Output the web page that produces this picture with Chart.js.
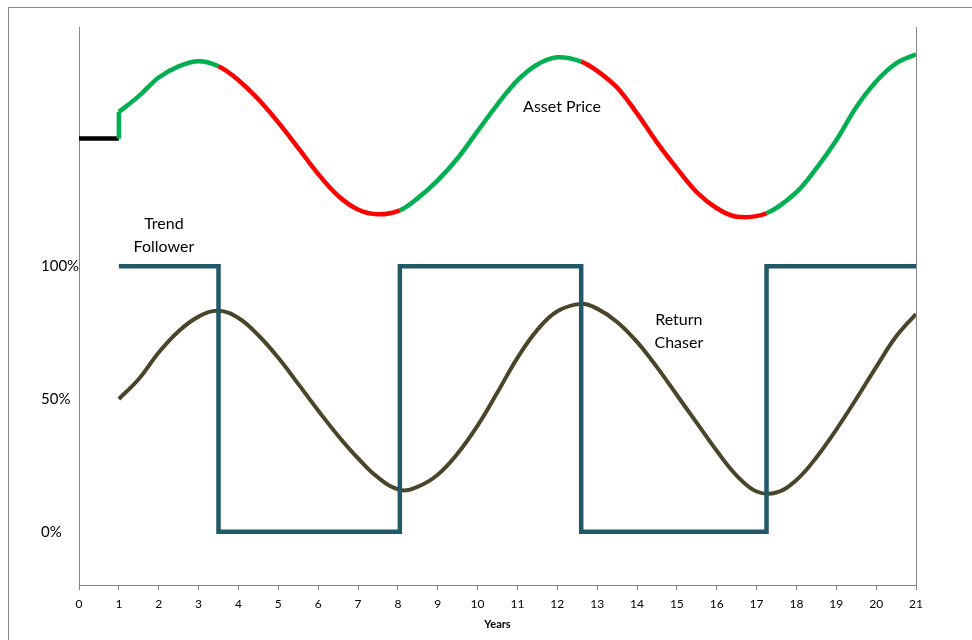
<!DOCTYPE html>
<html>
<head>
<meta charset="utf-8">
<script src="https://cdn.jsdelivr.net/npm/chart.js@4"></script>
<style>
  body { margin: 0; background: #fff; }
  canvas { display: block; }
</style>
</head>
<body>
<canvas id="chart" width="972" height="640"></canvas>
<script>
// asset price before the strategies start (flat, black) and the jump at year 1
var preYears = [0, 1, 1];
var prePrice = [1.48, 1.48, 1.58];

// asset price path (x = years)
var assetYears = [1, 1.5, 2, 2.5, 3, 3.5, 4, 4.5, 5, 5.5, 6, 6.5, 7, 7.5, 8.05, 8.5, 9, 9.5, 10, 10.5, 11, 11.5, 12, 12.6, 13, 13.5, 14, 14.5, 15, 15.5, 16, 16.5, 17.25, 18, 18.5, 19, 19.5, 20, 20.5, 21];
var assetPrice = [1.58, 1.64, 1.71, 1.752, 1.771, 1.752, 1.70, 1.628, 1.541, 1.445, 1.347, 1.265, 1.213, 1.195, 1.21, 1.256, 1.323, 1.406, 1.508, 1.609, 1.699, 1.759, 1.786, 1.770, 1.735, 1.672, 1.575, 1.466, 1.368, 1.278, 1.218, 1.186, 1.199, 1.278, 1.368, 1.474, 1.598, 1.695, 1.763, 1.797];

// trend follower allocation (0 = 0%, 1 = 100%)
var trendYears = [1, 3.5, 3.5, 8.05, 8.05, 12.6, 12.6, 17.25, 17.25, 21];
var trendPos = [1, 1, 0, 0, 1, 1, 0, 0, 1, 1];

// return chaser allocation
var chaserYears = [1, 1.5, 2, 2.5, 3, 3.5, 4, 4.5, 5, 5.5, 6, 6.5, 7, 7.5, 8.05, 8.5, 9, 9.5, 10, 10.5, 11, 11.5, 12, 12.6, 13, 13.5, 14, 14.5, 15, 15.5, 16, 16.5, 17, 17.5, 18, 18.5, 19, 19.5, 20, 20.5, 21];
var chaserPos = [0.50, 0.575, 0.675, 0.755, 0.81, 0.832, 0.805, 0.74, 0.655, 0.557, 0.457, 0.362, 0.277, 0.205, 0.158, 0.17, 0.215, 0.295, 0.40, 0.525, 0.655, 0.76, 0.83, 0.858, 0.84, 0.79, 0.715, 0.62, 0.515, 0.41, 0.305, 0.212, 0.152, 0.148, 0.195, 0.28, 0.385, 0.50, 0.62, 0.735, 0.82];

var yTicks = [0, 0.5, 1];
var yTickLabels = ["0%", "50%", "100%"];

var notes = [
  { text: ["Asset Price"], x: 12.12, y: 1.60 },
  { text: ["Trend", "Follower"], x: 2.13, y: 1.158 },
  { text: ["Return", "Chaser"], x: 15.05, y: 0.797 }
];

function toPoints(xs, ys) {
  return xs.map(function (x, i) { return { x: x, y: ys[i] }; });
}

// invested (1) or out (0) at a given time, from the trend follower line
function trendAt(t) {
  for (var i = 0; i < trendYears.length - 1; i++) {
    if (trendYears[i] < t && t < trendYears[i + 1]) return trendPos[i];
  }
  return 1;
}

var FONT = "Lato, 'Open Sans', sans-serif";

var frame = {
  id: "frame",
  beforeDraw: function (chart) {
    var ctx = chart.ctx;
    ctx.save();
    ctx.fillStyle = "#fff";
    ctx.fillRect(0, 0, chart.width, chart.height);
    ctx.strokeStyle = "#868686";
    ctx.lineWidth = 1;
    ctx.strokeRect(8.5, 7.5, chart.width + 20, chart.height + 20);
    ctx.restore();
  },
  afterDatasetsDraw: function (chart) {
    var ctx = chart.ctx;
    var sx = chart.scales.x, sy = chart.scales.y;
    ctx.save();
    ctx.fillStyle = "#000";
    ctx.font = "16px " + FONT;
    ctx.textAlign = "center";
    ctx.textBaseline = "middle";
    notes.forEach(function (n) {
      var px = sx.getPixelForValue(n.x);
      var py = sy.getPixelForValue(n.y);
      n.text.forEach(function (line, i) {
        ctx.fillText(line, px, py + i * 23);
      });
    });
    ctx.restore();
  }
};

new Chart("chart", {
  type: "line",
  data: {
    datasets: [
      {
        label: "Trend Follower",
        data: toPoints(trendYears, trendPos),
        borderColor: "#215968",
        borderWidth: 4.5,
        tension: 0,
        pointRadius: 0,
        order: 0
      },
      {
        label: "Return Chaser",
        data: toPoints(chaserYears, chaserPos),
        borderColor: "#4A452A",
        borderWidth: 4,
        tension: 0.4,
        pointRadius: 0,
        order: 1
      },
      {
        label: "Asset Price (start)",
        data: toPoints(preYears, prePrice),
        borderColor: "#000",
        borderWidth: 4.5,
        tension: 0,
        pointRadius: 0,
        order: 3,
        segment: {
          borderColor: function (c) {
            return c.p0.parsed.x < c.p1.parsed.x ? "#000" : "#00B050";
          }
        }
      },
      {
        label: "Asset Price",
        data: toPoints(assetYears, assetPrice),
        borderColor: "#00B050",
        borderWidth: 4.5,
        tension: 0.35,
        pointRadius: 0,
        order: 2,
        segment: {
          borderColor: function (c) {
            var x0 = c.p0.parsed.x, x1 = c.p1.parsed.x;
            return trendAt((x0 + x1) / 2) ? "#00B050" : "#FF0000";
          }
        }
      }
    ]
  },
  options: {
    responsive: false,
    animation: false,
    devicePixelRatio: 1,
    layout: { padding: { left: 41, top: 27, right: 56, bottom: 0 } },
    plugins: {
      legend: { display: false },
      tooltip: { enabled: false }
    },
    scales: {
      x: {
        type: "linear",
        min: 0,
        max: 21,
        ticks: {
          stepSize: 1,
          color: "#000",
          padding: 7,
          font: { family: FONT, size: 12 }
        },
        grid: {
          display: true,
          drawOnChartArea: false,
          tickLength: 5,
          color: "#868686"
        },
        border: { display: true, color: "#868686" },
        title: {
          display: true,
          text: "Years",
          color: "#000",
          padding: { top: 0, bottom: 9 },
          font: { family: FONT, size: 11, weight: "bold" }
        },
        afterFit: function (s) { s.height = 55; }
      },
      y: {
        min: -0.2,
        max: 1.9,
        afterBuildTicks: function (s) {
          s.ticks = yTicks.map(function (v) { return { value: v }; });
        },
        ticks: {
          crossAlign: "far",
          color: "#000",
          font: { family: FONT, size: 15 },
          callback: function (v) {
            var i = yTicks.indexOf(v);
            return i >= 0 ? yTickLabels[i] : "";
          }
        },
        grid: { display: false },
        border: { display: true, color: "#868686" },
        afterFit: function (s) { s.width = 38; }
      },
      y2: {
        position: "right",
        min: -0.2,
        max: 1.9,
        ticks: { display: false },
        grid: { display: false },
        border: { display: true, color: "#868686" },
        afterFit: function (s) { s.width = 0; }
      }
    }
  },
  plugins: [frame]
});
</script>
</body>
</html>
